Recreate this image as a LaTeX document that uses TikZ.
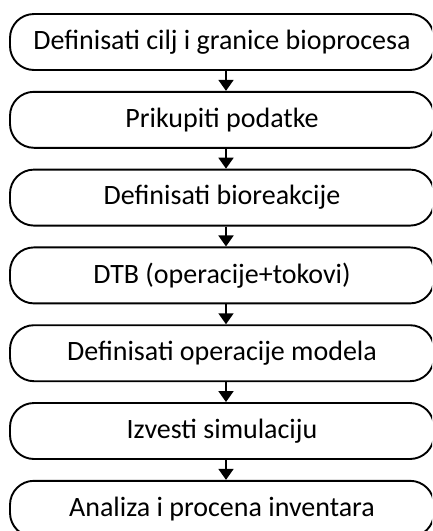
\documentclass[tikz,border=0pt]{standalone}
\usepackage{fontspec}
\setmainfont{Carlito}
\usetikzlibrary{arrows.meta}
\begin{document}
\begin{tikzpicture}[x=1pt,y=-1pt,
  stepbox/.style={draw, line width=1.9pt, rounded corners=24pt,
    minimum width=424pt, minimum height=56pt, inner sep=0pt, fill=white,
    font=\fontsize{28}{30}\selectfont},
  flow/.style={line width=1.9pt, -{Triangle[length=11pt,width=15pt]}}]
\path[use as bounding box] (0,0) rectangle (432,531);
\clip (0,0) rectangle (432,531);
\foreach \name/\txt [count=\i from 0] in {
    s1/{Definisati cilj i granice bioprocesa},
    s2/{Prikupiti podatke},
    s3/{Definisati bioreakcije},
    s4/{DTB (operacije+tokovi)},
    s5/{Definisati operacije modela},
    s6/{Izvesti simulaciju},
    s7/{Analiza i procena inventara}}
  \node[stepbox] (\name) at (222, 42+77.8*\i) {\txt};
\foreach \a/\b in {s1/s2, s2/s3, s3/s4, s4/s5, s5/s6, s6/s7}
  \draw[flow] ([xshift=4pt]\a.south) -- ([xshift=4pt]\b.north);
\end{tikzpicture}
\end{document}
